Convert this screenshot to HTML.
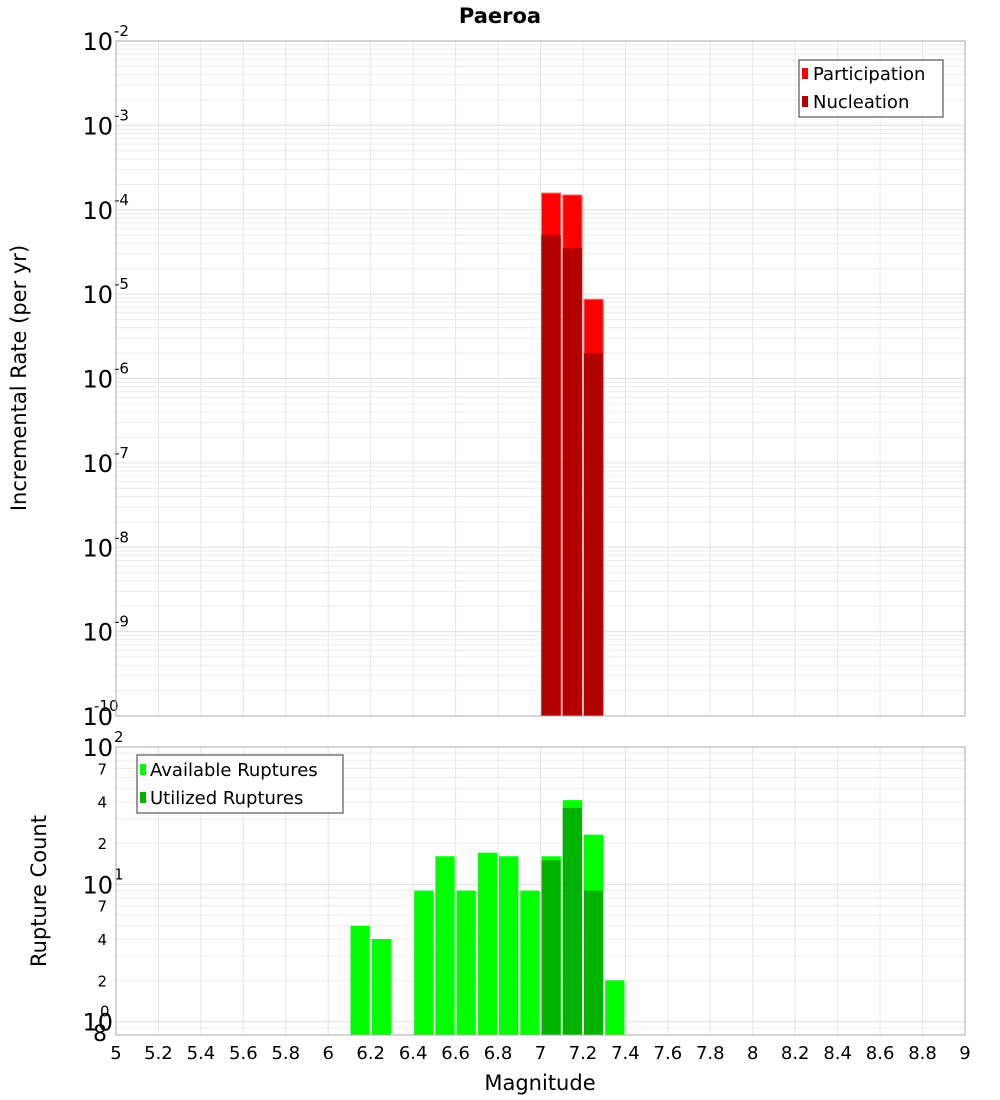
<!DOCTYPE html>
<html><head><meta charset="utf-8"><style>
html,body{margin:0;padding:0;background:#fff;}
svg{display:block;font-family:"DejaVu Sans","Liberation Sans",sans-serif;}
</style></head><body>
<svg id="c" width="1000" height="1100" viewBox="0 0 1000 1100" xmlns="http://www.w3.org/2000/svg">
<rect width="1000" height="1100" fill="#fff"/>
<text x="500" y="23" text-anchor="middle" font-size="21" font-weight="bold">Paeroa</text>
<g id="topg"></g><g id="botg"></g><g id="xax"></g>
<text x="540" y="1090" text-anchor="middle" font-size="21">Magnitude</text>
<text transform="translate(26,378) rotate(-90)" text-anchor="middle" font-size="21">Incremental Rate (per yr)</text>
<text transform="translate(46,891) rotate(-90)" text-anchor="middle" font-size="21">Rupture Count</text>
</svg>
<script>
const binStarts=[6.1,6.2,6.4,6.5,6.6,6.7,6.8,6.9,7.0,7.1,7.2,7.3];
const available=[5,4,9,16,9,17,16,9,16,41,23,2];
const utilizedBins=[7.0,7.1,7.2];
const utilized=[15,36,9];
const rateBins=[7.0,7.1,7.2];
const participation=[1.58e-4,1.5e-4,8.7e-6];
const nucleation=[5e-5,3.5e-5,2e-6];
const xTicks=[5,5.2,5.4,5.6,5.8,6,6.2,6.4,6.6,6.8,7,7.2,7.4,7.6,7.8,8,8.2,8.4,8.6,8.8,9];

const NS="http://www.w3.org/2000/svg";
const X0=116,X1=965;
const x=v=>X0+(v-5)/4*(X1-X0);
const T0=41,T1=716,yt=v=>T0+(-2-Math.log10(v))/8*(T1-T0);
const B0=747,B1=1035,bmin=Math.log10(0.8),yb=v=>B0+(2-Math.log10(v))/(2-bmin)*(B1-B0);
function mk(p,tag,a,txt){const e=document.createElementNS(NS,tag);for(const k in a)e.setAttribute(k,a[k]);if(txt!==undefined)e.textContent=txt;p.appendChild(e);return e;}
const topG=document.getElementById('topg'),botG=document.getElementById('botg'),xax=document.getElementById('xax');

function grid(g,y0,y1){
  for(let v=5;v<=9.001;v+=0.2){const px=x(v);const l=mk(g,'line',{x1:px,x2:px,y1:y0,y2:y1,stroke:'#e6e6e6'});
  
  }
}
// top plot
mk(topG,'rect',{x:X0,y:T0,width:X1-X0,height:T1-T0,fill:'#fff'});
grid(topG,T0,T1);
for(let d=-10;d<-2;d++){for(let m=1;m<10;m++){const v=m*Math.pow(10,d);const py=yt(v);
 const l=mk(topG,'line',{x1:X0,x2:X1,y1:py,y2:py,stroke:m==1?'#e0e0e0':'#ececec'});
 
 }}
for(let d=-10;d<=-2;d++){const py=yt(Math.pow(10,d));
 const t=mk(topG,'text',{x:113,y:py+9,'text-anchor':'end','font-size':24},'10');
 
 
 const s=mk(topG,'text',{x:d==-10?94:114,y:py-5,'text-anchor':'start','font-size':15},String(d));
 
 
}
const bw=(X1-X0)/40;
rateBins.forEach((b,i)=>{
 const r=mk(topG,'rect',{x:x(b)+1,y:yt(participation[i]),width:bw-2,height:T1-yt(participation[i]),fill:'#ff0000',stroke:'#ff8080','stroke-width':1});
 
 
 const n=mk(topG,'rect',{x:x(b)+1,y:yt(nucleation[i]),width:bw-2,height:T1-yt(nucleation[i]),fill:'#b30000'});
 
 
});
mk(topG,'rect',{x:X0,y:T0,width:X1-X0,height:T1-T0,fill:'none',stroke:'#aaa'});
const lg=mk(topG,'g',{});


mk(lg,'rect',{x:799,y:60,width:144,height:57,fill:'#fff',stroke:'#333'});
mk(lg,'rect',{x:802,y:68,width:6,height:11,fill:'#ff0000'});
mk(lg,'text',{x:813,y:80,'font-size':18},'Participation');
mk(lg,'rect',{x:802,y:96,width:6,height:11,fill:'#b30000'});
mk(lg,'text',{x:813,y:108,'font-size':18},'Nucleation');

// bottom plot
mk(botG,'rect',{x:X0,y:B0,width:X1-X0,height:B1-B0,fill:'#fff'});
grid(botG,B0,B1);
for(let d=-1;d<2;d++){for(let m=1;m<10;m++){const v=m*Math.pow(10,d);if(v<0.8)continue;const py=yb(v);
 const l=mk(botG,'line',{x1:X0,x2:X1,y1:py,y2:py,stroke:m==1?'#e0e0e0':'#ececec'});
 
 }}
[[1,'0'],[10,'1'],[100,'2']].forEach(([v,e])=>{const py=yb(v);
 const t=mk(botG,'text',{x:113,y:py+9,'text-anchor':'end','font-size':24},'10');
 
 
 mk(botG,'text',{x:v==1?100:114,y:py-5,'font-size':15},e);});
[[2,'2'],[4,'4'],[7,'7'],[20,'2'],[40,'4'],[70,'7'],[0.8,'8']].forEach(([v,s])=>{const py=yb(v);
 const t=mk(botG,'text',{x:107,y:py+6,'text-anchor':'end','font-size':v==0.8?22:15},s);
 
 });
binStarts.forEach((b,i)=>{
 const r=mk(botG,'rect',{x:x(b)+1,y:yb(available[i]),width:bw-2,height:B1-yb(available[i]),fill:'#00ff00'});
 
 
});
utilizedBins.forEach((b,i)=>{
 const r=mk(botG,'rect',{x:x(b)+1,y:yb(utilized[i]),width:bw-2,height:B1-yb(utilized[i]),fill:'#00b300'});
 
 
});
mk(botG,'rect',{x:X0,y:B0,width:X1-X0,height:B1-B0,fill:'none',stroke:'#aaa'});
const lg2=mk(botG,'g',{});


mk(lg2,'rect',{x:137,y:755,width:206,height:58,fill:'#fff',stroke:'#333'});
mk(lg2,'rect',{x:140,y:764,width:6,height:11,fill:'#00ff00'});
mk(lg2,'text',{x:150,y:776,'font-size':18},'Available Ruptures');
mk(lg2,'rect',{x:140,y:792,width:6,height:11,fill:'#00b300'});
mk(lg2,'text',{x:150,y:804,'font-size':18},'Utilized Ruptures');

xTicks.forEach(v=>{const t=mk(xax,'text',{x:x(v),y:1059,'text-anchor':'middle','font-size':18},String(v));
 
 });
</script>
</body></html>
